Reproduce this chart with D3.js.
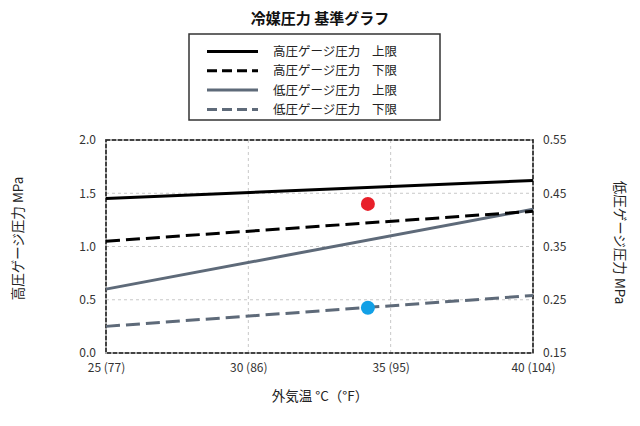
<!DOCTYPE html>
<html>
<head>
<meta charset="utf-8">
<script src="https://cdn.jsdelivr.net/npm/d3@7"></script>
<style>
  body { margin: 0; background: #fff; }
  text { font-family: "Noto Sans CJK JP", "Noto Sans", sans-serif; }
</style>
</head>
<body>
<svg id="chart" width="640" height="426"></svg>
<script>
// outside temperature (°C) at the two ends of each reference line
const temps = [25, 40];
const tempTicks = [25, 30, 35, 40];
const tempLabels = ['25 (77)', '30 (86)', '35 (95)', '40 (104)'];

// high side gauge pressure, MPa (left axis)
const highUpper = [1.45, 1.62];
const highLower = [1.05, 1.33];
// low side gauge pressure, MPa (right axis)
const lowUpper = [0.27, 0.42];
const lowLower = [0.20, 0.258];

// measured readings
const highReading = { t: 34.2, v: 1.40 };
const lowReading = { t: 34.2, v: 0.235 };

const leftTicks = [0, 0.5, 1.0, 1.5, 2.0];
const rightTicks = [0.15, 0.25, 0.35, 0.45, 0.55];

const legendItems = [
  { name: '高圧ゲージ圧力', limit: '上限', color: '#000', dash: null },
  { name: '高圧ゲージ圧力', limit: '下限', color: '#000', dash: '10,5' },
  { name: '低圧ゲージ圧力', limit: '上限', color: '#5e6a79', dash: null },
  { name: '低圧ゲージ圧力', limit: '下限', color: '#5e6a79', dash: '10,5' }
];

const svg = d3.select('#chart');
const margin = { top: 140, right: 107, bottom: 73, left: 106 };
const W = 640, H = 426;
const w = W - margin.left - margin.right,
      h = H - margin.top - margin.bottom;

const x = d3.scaleLinear().domain([25, 40]).range([0, w]);
const yL = d3.scaleLinear().domain([0, 2.0]).range([h, 0]);
const yR = d3.scaleLinear().domain([0.15, 0.55]).range([h, 0]);

const g = svg.append('g').attr('transform', `translate(${margin.left},${margin.top})`);

// grid
g.append('g').selectAll('line').data([0.5, 1.0, 1.5]).join('line')
  .attr('x1', 0).attr('x2', w)
  .attr('y1', d => yL(d)).attr('y2', d => yL(d))
  .attr('stroke', '#c8c8c8').attr('stroke-dasharray', '3,3');
g.append('g').selectAll('line').data([30, 35]).join('line')
  .attr('y1', 0).attr('y2', h)
  .attr('x1', d => x(d)).attr('x2', d => x(d))
  .attr('stroke', '#c8c8c8').attr('stroke-dasharray', '3,3');

// frame: grey solid under black dashes
g.append('rect').attr('width', w).attr('height', h)
  .attr('fill', 'none').attr('stroke', '#aaa').attr('stroke-width', 2);
g.append('rect').attr('width', w).attr('height', h)
  .attr('fill', 'none').attr('stroke', '#222').attr('stroke-width', 1.5)
  .attr('stroke-dasharray', '4,2');

// axes
const axB = g.append('g').attr('transform', `translate(0,${h})`)
  .call(d3.axisBottom(x).tickValues(tempTicks).tickSize(0).tickPadding(10)
    .tickFormat((d, i) => tempLabels[i]));
const axL = g.append('g')
  .call(d3.axisLeft(yL).tickValues(leftTicks).tickSize(0).tickPadding(10)
    .tickFormat(d3.format('.1f')));
const axR = g.append('g').attr('transform', `translate(${w},0)`)
  .call(d3.axisRight(yR).tickValues(rightTicks).tickSize(0).tickPadding(10)
    .tickFormat(d3.format('.2f')));
[axB, axL, axR].forEach(a => {
  a.select('.domain').remove();
  a.selectAll('text').attr('font-size', 12).attr('fill', '#333')
    .style('font-family', '"Noto Sans CJK JP", sans-serif');
});

// reference lines
const lineL = d3.line().x((d, i) => x(temps[i])).y(d => yL(d));
const lineR = d3.line().x((d, i) => x(temps[i])).y(d => yR(d));

g.append('path').datum(lowLower).attr('d', lineR)
  .attr('fill', 'none').attr('stroke', '#5e6a79').attr('stroke-width', 3)
  .attr('stroke-dasharray', '14,6');
g.append('path').datum(lowUpper).attr('d', lineR)
  .attr('fill', 'none').attr('stroke', '#5e6a79').attr('stroke-width', 3);
g.append('path').datum(highLower).attr('d', lineL)
  .attr('fill', 'none').attr('stroke', '#000').attr('stroke-width', 3)
  .attr('stroke-dasharray', '14,6');
g.append('path').datum(highUpper).attr('d', lineL)
  .attr('fill', 'none').attr('stroke', '#000').attr('stroke-width', 3);

// readings
g.append('circle').attr('cx', x(highReading.t)).attr('cy', yL(highReading.v))
  .attr('r', 7).attr('fill', '#e8202a');
g.append('circle').attr('cx', x(lowReading.t)).attr('cy', yR(lowReading.v))
  .attr('r', 7).attr('fill', '#12a0e6');

// title
svg.append('text').attr('x', W / 2).attr('y', 24).attr('text-anchor', 'middle')
  .attr('font-size', 15).attr('font-weight', 'bold').attr('fill', '#111')
  .text('冷媒圧力 基準グラフ');

// axis titles
svg.append('text').attr('x', W / 2).attr('y', 401).attr('text-anchor', 'middle')
  .attr('font-size', 13.5).attr('fill', '#222').text('外気温 °C（°F）');
svg.append('text').attr('transform', `translate(23,${margin.top + h / 2 - 8}) rotate(-90)`)
  .attr('text-anchor', 'middle').attr('font-size', 13.5).attr('fill', '#222')
  .text('高圧ゲージ圧力 MPa');
svg.append('text').attr('transform', `translate(615,${margin.top + h / 2 - 4}) rotate(90)`)
  .attr('text-anchor', 'middle').attr('font-size', 13.5).attr('fill', '#222')
  .text('低圧ゲージ圧力 MPa');

// legend
const lg = svg.append('g').attr('transform', 'translate(189,34)');
lg.append('rect').attr('width', 251).attr('height', 86)
  .attr('fill', '#fff').attr('stroke', '#333').attr('stroke-width', 1.5);
const rows = lg.selectAll('g.row').data(legendItems).join('g')
  .attr('class', 'row')
  .attr('transform', (d, i) => `translate(0,${17.5 + i * 19.3})`);
rows.append('line').attr('x1', 18).attr('x2', 69)
  .attr('stroke', d => d.color).attr('stroke-width', 3)
  .attr('stroke-dasharray', d => d.dash);
rows.append('text').attr('x', 84).attr('y', 4.5).attr('font-size', 12.5)
  .attr('fill', '#222').text(d => d.name);
rows.append('text').attr('x', 183).attr('y', 4.5).attr('font-size', 12.5)
  .attr('fill', '#222').text(d => d.limit);
</script>
</body>
</html>
